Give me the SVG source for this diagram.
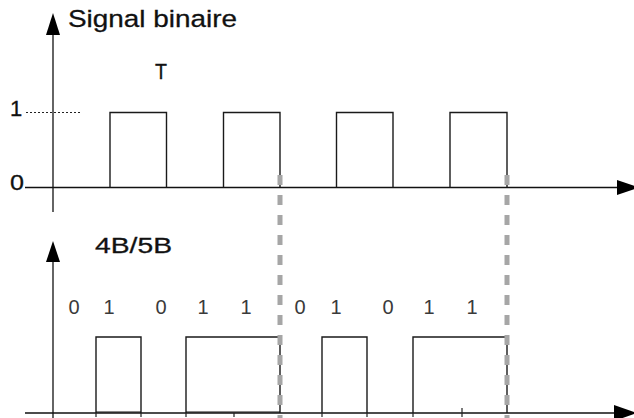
<svg xmlns="http://www.w3.org/2000/svg" width="634" height="418" viewBox="0 0 634 418">
<style>
.ax{stroke:#111;stroke-width:1.3;fill:none}
.sig{stroke:#1a1a1a;stroke-width:1.4;fill:none}
.head{fill:#000}
.lbl{font-family:"Liberation Sans",Arial,sans-serif;fill:#111;stroke:#111;stroke-width:0.3}
.bit{font-family:"Liberation Sans",Arial,sans-serif;font-size:20px;fill:#3a3a3a;text-anchor:middle}
.sep{stroke:#a6a6a6;stroke-width:5;stroke-dasharray:10 10;fill:none}
.tick{stroke:#222;stroke-width:1.2}
</style>
<rect width="634" height="418" fill="#fff"/>
<g id="top-axes">
<line class="ax" x1="53" y1="30" x2="53" y2="212"/>
<polygon class="head" points="53,13 46,35 60,35"/>
<line class="ax" x1="25" y1="187.5" x2="620" y2="187.5"/>
<polygon class="head" points="617,180 639,187.5 617,195"/>
<line x1="26" y1="112.5" x2="82" y2="112.5" stroke="#222" stroke-width="1" stroke-dasharray="2 2"/>
<text class="lbl" x="68" y="27" font-size="24.5" textLength="169" lengthAdjust="spacingAndGlyphs">Signal binaire</text>
<text class="lbl" x="155" y="79" font-size="22" textLength="12" lengthAdjust="spacingAndGlyphs">T</text>
<text class="lbl" x="10" y="116" font-size="22">1</text>
<text class="lbl" x="10" y="190" font-size="22" textLength="14" lengthAdjust="spacingAndGlyphs">0</text>
</g>
<g id="binary-signal">
<polyline class="sig" points="110,187.5 110,112.5 166.5,112.5 166.5,187.5"/>
<polyline class="sig" points="223.5,187.5 223.5,112.5 280,112.5 280,187.5"/>
<polyline class="sig" points="336.5,187.5 336.5,112.5 393,112.5 393,187.5"/>
<polyline class="sig" points="450,187.5 450,112.5 507,112.5 507,187.5"/>
</g>
<g id="bottom-axes">
<line class="ax" x1="53" y1="258" x2="53" y2="418"/>
<polygon class="head" points="53,241 46,262 60,262"/>
<line class="ax" x1="25" y1="413" x2="620" y2="413"/>
<polygon class="head" points="614,405 637,413 614,421"/>
<text class="lbl" x="95" y="253" font-size="22.5" textLength="77" lengthAdjust="spacingAndGlyphs">4B/5B</text>
<line class="tick" x1="96" y1="413" x2="96" y2="417"/>
<line class="tick" x1="141" y1="413" x2="141" y2="417"/>
<line class="tick" x1="186" y1="413" x2="186" y2="417"/>
<line class="tick" x1="234" y1="413" x2="234" y2="417"/>
<line class="tick" x1="322" y1="413" x2="322" y2="417"/>
<line class="tick" x1="367" y1="413" x2="367" y2="417"/>
<line class="tick" x1="413" y1="413" x2="413" y2="417"/>
<line class="tick" x1="462" y1="408" x2="462" y2="417"/>
</g>
<g id="encoded-signal">
<path class="sig" d="M96,413 V337 H141 V413"/>
<path class="sig" d="M186,413 V337 H280 V413"/>
<path class="sig" d="M322,413 V337 H367 V413"/>
<path class="sig" d="M413,413 V337 H507 V413"/>
<line x1="96" y1="412" x2="141" y2="412" stroke="#111" stroke-width="1.2"/>
<line x1="186" y1="412" x2="280" y2="412" stroke="#111" stroke-width="1.2"/>
</g>
<g id="bit-labels">
<text class="bit" x="74" y="314">0</text>
<text class="bit" x="109" y="314">1</text>
<text class="bit" x="161" y="314">0</text>
<text class="bit" x="203" y="314">1</text>
<text class="bit" x="246" y="314">1</text>
<text class="bit" x="300" y="314">0</text>
<text class="bit" x="336" y="314">1</text>
<text class="bit" x="388" y="314">0</text>
<text class="bit" x="429" y="314">1</text>
<text class="bit" x="472" y="314">1</text>
</g>
<g id="connectors">
<line class="sep" x1="280" y1="175" x2="280" y2="418"/>
<line class="sep" x1="507" y1="175" x2="507" y2="418"/>
</g>
</svg>
